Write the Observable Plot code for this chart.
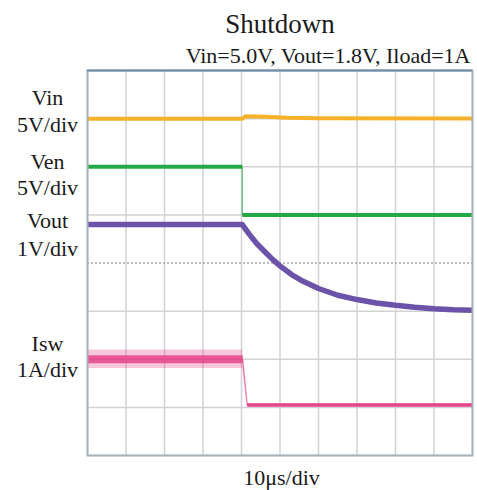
<!DOCTYPE html>
<html><head><meta charset="utf-8">
<script src="https://cdn.jsdelivr.net/npm/d3@7"></script>
<script src="https://cdn.jsdelivr.net/npm/@observablehq/plot@0.6"></script>
<style>body{margin:0;background:#fff}</style>
</head><body><div id="chart"></div>
<script>
// ---- text ----
const title = "Shutdown";
const subtitle = "Vin=5.0V, Vout=1.8V, Iload=1A";
const xLabel = "10μs/div";
const channelNames = ["Vin", "Ven", "Vout", "Isw"];
const channelScales = ["5V/div", "5V/div", "1V/div", "1A/div"];
// scope settings: units per division and ground-marker division (0 = bottom)
const unitsPerDiv = [5, 5, 1, 1];
const groundDiv = [6, 5, 3, 1];

// ---- grid ticks ----
const timeTicks = [0, 10, 20, 30, 40, 50, 60, 70, 80, 90, 100]; // µs
const divTicks = [0, 1, 2, 3, 4, 5, 6, 7, 8];

// ---- traces (time in µs, physical units) ----
const vinTime  = [0, 40.3, 41, 46, 52, 60, 100];
const vinValue = [5.0, 5.0, 5.25, 5.2, 5.1, 5.05, 5.02];

const venTime  = [0, 40.2, 40.2, 100];
const venValue = [5.0, 5.0, 0.0, 0.0];

const voutTime  = [0, 40.2, 41, 42, 43, 44, 46, 48, 50, 53, 56, 60, 65, 70, 75, 80, 85, 90, 95, 100];
const voutValue = [1.80, 1.80, 1.71, 1.60, 1.50, 1.40, 1.24, 1.08, 0.94, 0.76, 0.62, 0.47, 0.33, 0.24, 0.17, 0.12, 0.08, 0.05, 0.03, 0.02];

const iswTime   = [0, 40.3, 41.5, 100];
const iswValue  = [1.0, 1.0, 0.05, 0.05];
const iswRipple = [0.19, 0.19, 0.03, 0.03]; // ± noise envelope, A

// ---- styles / layout ----
const colors = ["#f6b12a", "#23a845", "#6c52a8", "#e4458b"];
const widths = [4, 4, 5.5, 3.5];
const labelNameDiv  = [7.42, 6.11, 4.87, 2.31];
const labelScaleDiv = [6.86, 5.55, 4.30, 1.78];
const font = "'Liberation Serif', 'Times New Roman', serif";

const series = [
  [vinTime, vinValue], [venTime, venValue], [voutTime, voutValue], [iswTime, iswValue]
];
function rowsFor(i) {
  const [ts, vs] = series[i];
  let seg = 0, prev = null;
  return ts.map((t, k) => {
    const d = groundDiv[i] + vs[k] / unitsPerDiv[i];
    if (prev) {
      const dt = t - prev.t, dd = Math.abs(d - prev.d);
      if (dd / Math.max(dt, 1e-9) > 0.5) seg++;
    }
    prev = {t, d};
    return {t, d, seg, ch: i};
  });
}
const rows = channelNames.map((_, i) => rowsFor(i));
const iswBand = iswTime.map((t, k) => ({
  t,
  lo: groundDiv[3] + (iswValue[k] - iswRipple[k]) / unitsPerDiv[3],
  hi: groundDiv[3] + (iswValue[k] + iswRipple[k]) / unitsPerDiv[3]
}));
const labelRows = channelNames.flatMap((n, i) => [
  {text: n, y: labelNameDiv[i]},
  {text: channelScales[i], y: labelScaleDiv[i]}
]);

const marks = [
  Plot.ruleX(timeTicks, {x: d => d, stroke: "#d2d2d6", strokeWidth: 1.5}),
  Plot.ruleY(divTicks.filter(d => d !== 4), {y: d => d, stroke: "#d2d2d2", strokeWidth: 1.5}),
  Plot.ruleY([4], {y: d => d, stroke: "#a8a8a8", strokeWidth: 1.5, strokeDasharray: "2,2"}),
  Plot.areaY(iswBand, {x: "t", y1: "lo", y2: "hi", fill: colors[3], fillOpacity: 0.3, curve: "linear"}),
];
const lineOpts = {x: "t", y: "d", strokeLinecap: "butt", strokeLinejoin: "round"};
rows.forEach((r, i) => {
  marks.push(Plot.line(r, {...lineOpts, stroke: colors[i], strokeWidth: 1.2, strokeOpacity: 0.7}));
  if (i === 3) {
    marks.push(Plot.line(r.filter(p => p.seg === 0), {...lineOpts, stroke: colors[i], strokeWidth: 8, strokeOpacity: 0.85}));
    marks.push(Plot.line(r.filter(p => p.seg > 0), {...lineOpts, z: "seg", stroke: colors[i], strokeWidth: widths[i]}));
  } else {
    marks.push(Plot.line(r, {...lineOpts, z: "seg", stroke: colors[i], strokeWidth: widths[i]}));
  }
});
marks.push(
  Plot.frame({stroke: "#a9b1ba", strokeWidth: 2}),
  Plot.ruleY([8], {y: d => d, stroke: "#6d8cab", strokeWidth: 2}),
  Plot.text([title], {text: d => d, frameAnchor: "top", dy: -46.5, fontSize: 27, fontFamily: font, fill: "#1a1a1a", lineAnchor: "middle"}),
  Plot.text([subtitle], {text: d => d, frameAnchor: "top-right", dx: -2, dy: -15, textAnchor: "end", fontSize: 22, fontFamily: font, fill: "#1a1a1a", lineAnchor: "middle"}),
  Plot.text([xLabel], {text: d => d, frameAnchor: "bottom", dx: 1.5, dy: 22, fontSize: 22, fontFamily: font, fill: "#1a1a1a", lineAnchor: "middle"}),
  Plot.text(labelRows, {text: "text", y: "y", frameAnchor: "left", dx: -40, textAnchor: "middle", fontSize: 22, fontFamily: font, fill: "#1a1a1a", lineAnchor: "middle"})
);

const chart = Plot.plot({
  width: 477, height: 490,
  marginLeft: 87, marginRight: 5, marginTop: 70, marginBottom: 35,
  x: {domain: [0, 100], axis: null},
  y: {domain: [0, 8], axis: null},
  style: {background: "#fff", overflow: "visible"},
  marks
});
document.getElementById("chart").appendChild(chart);
</script>
</body></html>
